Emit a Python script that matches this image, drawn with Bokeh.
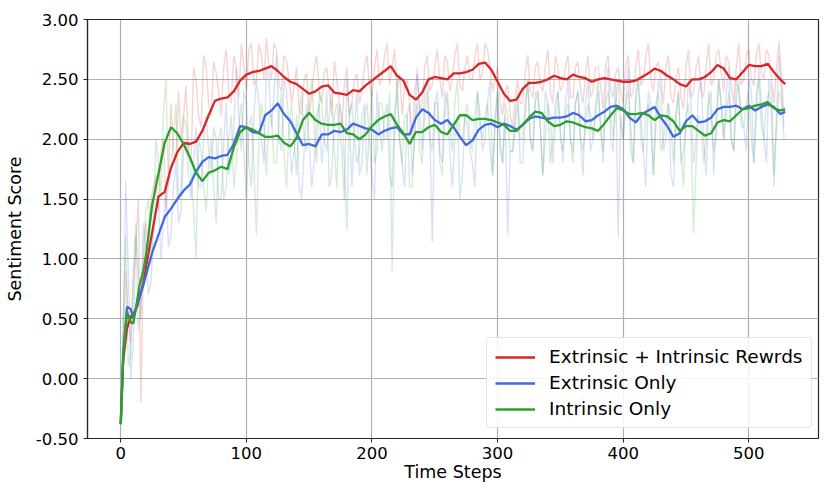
from bokeh.plotting import figure
from bokeh.models import Range1d, FixedTicker, NumeralTickFormatter, Legend, LegendItem
from bokeh.embed import file_html
from bokeh.resources import INLINE

# ---------------- data ----------------
x_smooth = [0, 2, 5, 8, 10, 13, 15, 18, 20] + list(range(25, 530, 5)) + [529]

red_smooth = [
    -0.38, 0.15, 0.42, 0.52, 0.54, 0.60, 0.68, 0.80, 0.92,
    1.22, 1.52, 1.56, 1.76, 1.89, 1.97, 1.96, 1.98, 2.07, 2.20,
    2.32, 2.34, 2.35, 2.40, 2.49, 2.54, 2.56, 2.57, 2.59, 2.61,
    2.57, 2.52, 2.48, 2.46, 2.42, 2.38, 2.40, 2.44, 2.45, 2.39,
    2.38, 2.37, 2.41, 2.40, 2.45, 2.49, 2.53, 2.57, 2.61, 2.53,
    2.49, 2.37, 2.33, 2.39, 2.50, 2.52, 2.51, 2.50, 2.55, 2.55,
    2.56, 2.58, 2.63, 2.64, 2.58, 2.48, 2.38, 2.32, 2.33, 2.42,
    2.47, 2.47, 2.48, 2.50, 2.53, 2.51, 2.50, 2.54, 2.52, 2.51,
    2.48, 2.50, 2.51, 2.50, 2.49, 2.48, 2.48, 2.49, 2.52, 2.55,
    2.59, 2.57, 2.53, 2.50, 2.46, 2.44, 2.50, 2.50, 2.52, 2.56,
    2.62, 2.59, 2.51, 2.50, 2.56, 2.62, 2.61, 2.61, 2.63, 2.56,
    2.50, 2.46,
]

blue_smooth = [
    -0.38, 0.20, 0.60, 0.58, 0.50, 0.62, 0.68, 0.78, 0.86,
    1.05, 1.20, 1.35, 1.42, 1.50, 1.57, 1.62, 1.73, 1.81, 1.85,
    1.84, 1.86, 1.87, 1.96, 2.11, 2.10, 2.06, 2.05, 2.20, 2.24,
    2.30, 2.21, 2.15, 2.05, 1.95, 1.96, 1.94, 2.04, 2.04, 2.07,
    2.06, 2.08, 2.13, 2.11, 2.09, 2.08, 2.04, 2.07, 2.09, 2.10,
    2.04, 2.04, 2.18, 2.25, 2.22, 2.16, 2.13, 2.16, 2.10, 2.02,
    1.95, 1.99, 2.08, 2.12, 2.13, 2.10, 2.13, 2.11, 2.08, 2.12,
    2.17, 2.19, 2.18, 2.17, 2.18, 2.18, 2.19, 2.22, 2.20, 2.15,
    2.16, 2.20, 2.23, 2.27, 2.28, 2.25, 2.18, 2.14, 2.21, 2.24,
    2.27, 2.18, 2.11, 2.02, 2.05, 2.15, 2.20, 2.14, 2.15, 2.18,
    2.25, 2.27, 2.27, 2.28, 2.25, 2.28, 2.24, 2.27, 2.29, 2.27,
    2.21, 2.23,
]

green_smooth = [
    -0.38, 0.20, 0.56, 0.47, 0.46, 0.65, 0.78, 0.90, 1.02,
    1.45, 1.71, 1.97, 2.10, 2.05, 1.96, 1.85, 1.72, 1.65, 1.72,
    1.74, 1.77, 1.75, 1.93, 2.06, 2.10, 2.08, 2.05, 2.02, 2.02,
    2.03, 1.97, 1.94, 2.01, 2.16, 2.22, 2.16, 2.13, 2.12, 2.12,
    2.13, 2.05, 2.04, 2.00, 2.04, 2.11, 2.16, 2.19, 2.21, 2.12,
    2.05, 1.96, 2.06, 2.06, 2.10, 2.12, 2.06, 2.04, 2.12, 2.20,
    2.20, 2.16, 2.17, 2.17, 2.16, 2.14, 2.12, 2.07, 2.07, 2.12,
    2.18, 2.23, 2.22, 2.15, 2.11, 2.12, 2.15, 2.14, 2.12, 2.10,
    2.09, 2.07, 2.13, 2.20, 2.26, 2.24, 2.21, 2.21, 2.22, 2.20,
    2.16, 2.20, 2.19, 2.15, 2.07, 2.11, 2.11, 2.07, 2.03, 2.05,
    2.14, 2.16, 2.15, 2.20, 2.25, 2.26, 2.28, 2.29, 2.31, 2.26,
    2.24, 2.25,
]

# raw (unsmoothed) scores, read at steps 0, 4, 8, ... and 2, 6, 10, ...
x_raw_a = list(range(0, 529, 4))
x_raw_b = list(range(2, 527, 4))

red_raw_a = [
    -0.38, 0.90, 0.30, 1.10, -0.20, 1.30, 1.50, 1.70, 1.90, 1.40,
    2.30, 1.80, 2.00, 2.45, 1.80, 2.50, 2.10, 2.60, 2.20, 2.55,
    2.20, 2.75, 2.30, 2.60, 2.80, 2.40, 2.80, 2.50, 2.70, 2.85,
    2.50, 2.75, 2.40, 2.65, 2.30, 2.60, 2.20, 2.55, 2.35, 2.70,
    2.30, 2.60, 2.20, 2.50, 2.10, 2.60, 2.30, 2.55, 2.40, 2.70,
    2.35, 2.75, 2.50, 2.80, 2.60, 2.40, 2.20, 2.50, 2.00, 2.55,
    2.30, 2.70, 2.45, 2.75, 2.35, 2.65, 2.50, 2.80, 2.40, 2.70,
    2.50, 2.80, 2.55, 2.75, 2.40, 2.60, 2.20, 2.45, 2.10, 2.50,
    2.30, 2.70, 2.35, 2.65, 2.40, 2.75, 2.30, 2.60, 2.45, 2.70,
    2.35, 2.65, 2.30, 2.70, 2.40, 2.60, 2.25, 2.70, 2.35, 2.60,
    2.30, 2.70, 2.40, 2.75, 2.50, 2.80, 2.40, 2.65, 2.30, 2.70,
    2.30, 2.60, 2.25, 2.75, 2.40, 2.70, 2.35, 2.80, 2.50, 2.75,
    2.40, 2.65, 2.30, 2.80, 2.50, 2.75, 2.45, 2.80, 2.50, 2.70,
    2.30, 2.82, 2.20,
]
red_raw_b = [
    0.30, 0.50, 0.80, 1.50, 0.90, 1.10, 1.60, 1.40, 2.00, 1.70,
    1.90, 2.40, 2.20, 1.90, 2.60, 2.20, 2.70, 2.30, 2.65, 2.40,
    2.60, 2.40, 2.70, 2.35, 2.60, 2.75, 2.45, 2.80, 2.50, 2.60,
    2.80, 2.45, 2.70, 2.50, 2.45, 2.25, 2.50, 2.20, 2.60, 2.40,
    2.55, 2.40, 2.65, 2.30, 2.45, 2.20, 2.50, 2.30, 2.60, 2.45,
    2.60, 2.45, 2.70, 2.45, 2.75, 2.55, 2.45, 2.30, 2.40, 2.25,
    2.60, 2.40, 2.60, 2.50, 2.70, 2.40, 2.70, 2.45, 2.60, 2.50,
    2.70, 2.50, 2.80, 2.60, 2.50, 2.30, 2.40, 2.20, 2.35, 2.30,
    2.55, 2.40, 2.60, 2.45, 2.60, 2.40, 2.70, 2.40, 2.60, 2.35,
    2.60, 2.40, 2.55, 2.35, 2.60, 2.45, 2.60, 2.40, 2.55, 2.40,
    2.60, 2.35, 2.60, 2.45, 2.70, 2.50, 2.60, 2.50, 2.60, 2.35,
    2.50, 2.35, 2.60, 2.35, 2.60, 2.40, 2.60, 2.45, 2.70, 2.55,
    2.70, 2.45, 2.60, 2.45, 2.70, 2.50, 2.70, 2.55, 2.75, 2.50,
    2.60, 2.50,
]

blue_raw_a = [
    -0.38, 1.65, 0.00, 1.20, 0.50, 1.10, 0.80, 1.40, 1.00, 1.60,
    1.20, 1.80, 1.40, 2.00, 1.50, 2.10, 1.60, 2.20, 1.70, 2.00,
    1.50, 2.30, 1.80, 2.60, 1.90, 2.30, 1.60, 2.50, 2.00, 2.60,
    2.10, 2.70, 1.90, 2.40, 1.70, 2.20, 1.50, 2.30, 1.60, 2.20,
    1.80, 2.40, 1.70, 2.30, 1.90, 2.50, 1.60, 2.40, 1.80, 2.30,
    1.70, 2.40, 1.90, 2.30, 1.60, 2.40, 1.80, 2.20, 1.70, 2.60,
    1.90, 2.50, 1.14, 2.40, 1.80, 2.30, 1.60, 2.20, 1.70, 2.10,
    1.80, 2.40, 1.90, 2.30, 1.70, 2.40, 1.80, 1.20, 1.90, 2.40,
    1.80, 2.50, 1.90, 2.40, 1.70, 2.30, 2.00, 2.40, 1.80, 2.50,
    1.90, 2.40, 1.70, 2.50, 2.00, 2.40, 1.80, 2.60, 1.90, 1.18,
    2.00, 2.60, 1.80, 2.50, 1.90, 2.40, 1.70, 2.50, 1.90, 2.30,
    1.60, 2.40, 1.90, 2.50, 1.80, 2.40, 2.00, 2.30, 1.70, 2.50,
    2.00, 2.60, 1.90, 2.40, 2.10, 2.50, 1.80, 2.60, 2.00, 2.50,
    1.70, 2.70, 2.10,
]
blue_raw_b = [
    0.40, 0.90, 0.30, 0.90, 1.30, 0.70, 1.20, 1.50, 1.30, 1.10,
    1.60, 1.30, 1.90, 1.70, 1.80, 1.60, 2.00, 1.90, 2.10, 1.50,
    2.00, 1.70, 2.10, 2.20, 2.40, 1.80, 2.20, 2.30, 1.80, 2.50,
    2.40, 2.00, 2.50, 2.10, 1.90, 1.60, 1.90, 2.00, 1.80, 2.30,
    2.00, 1.60, 2.20, 2.10, 1.50, 2.20, 2.10, 1.70, 2.20, 2.00,
    1.50, 2.10, 2.20, 1.70, 2.20, 2.00, 1.60, 2.30, 2.00, 2.20,
    2.40, 2.10, 2.30, 1.90, 2.40, 1.90, 2.00, 1.50, 2.20, 1.90,
    1.60, 2.20, 2.00, 2.50, 2.10, 1.90, 2.20, 1.90, 2.20, 1.80,
    2.20, 2.00, 2.30, 2.10, 2.40, 1.80, 2.30, 2.10, 2.30, 2.00,
    2.30, 2.00, 2.30, 1.90, 2.20, 2.10, 2.40, 2.00, 2.50, 2.20,
    2.30, 1.90, 2.40, 2.20, 1.60, 2.30, 2.10, 2.40, 2.00, 1.70,
    2.20, 1.80, 2.10, 2.30, 2.00, 2.50, 1.70, 2.40, 2.20, 2.30,
    2.40, 2.00, 2.50, 2.20, 1.90, 2.40, 2.20, 2.30, 1.80, 2.40,
    2.20, 2.40,
]

green_raw_a = [
    -0.38, 1.20, 0.20, 1.30, 0.60, 1.40, 1.00, 2.00, 1.50, 2.50,
    1.80, 2.30, 1.60, 2.10, 1.70, 1.00, 1.90, 1.40, 2.00, 1.30,
    2.10, 1.60, 2.20, 1.80, 2.30, 1.50, 2.20, 1.20, 2.30, 1.70,
    2.20, 1.80, 2.40, 1.60, 2.30, 1.70, 2.40, 1.90, 2.50, 1.80,
    2.30, 1.90, 2.40, 1.60, 2.20, 1.24, 2.30, 1.80, 2.20, 1.70,
    2.40, 1.90, 2.30, 2.00, 0.90, 2.50, 1.80, 2.20, 1.60, 2.30,
    1.80, 2.40, 1.90, 2.30, 1.70, 2.40, 1.90, 2.50, 2.00, 2.30,
    1.90, 2.40, 2.00, 2.30, 1.70, 2.40, 1.80, 2.20, 1.90, 2.30,
    2.00, 2.50, 1.90, 2.40, 1.70, 2.30, 1.80, 2.40, 1.90, 2.30,
    1.80, 2.40, 1.90, 2.30, 2.00, 2.50, 1.90, 2.40, 2.00, 2.50,
    2.00, 2.40, 1.80, 2.50, 1.90, 2.30, 1.70, 2.40, 2.00, 2.30,
    1.80, 2.40, 1.60, 2.30, 1.21, 2.20, 1.80, 2.40, 1.90, 2.50,
    2.00, 2.40, 1.90, 2.50, 2.10, 2.40, 1.80, 2.50, 2.00, 2.40,
    1.60, 2.40, 2.00,
]
green_raw_b = [
    0.50, 0.10, 0.90, 0.40, 1.10, 1.50, 1.30, 1.80, 2.20, 1.60,
    2.00, 1.50, 2.20, 1.90, 1.40, 2.00, 1.60, 1.80, 1.60, 2.00,
    1.50, 2.00, 1.60, 2.10, 1.90, 2.10, 1.80, 2.00, 2.10, 2.20,
    1.80, 2.20, 1.90, 2.10, 2.00, 2.20, 2.00, 2.30, 2.10, 2.40,
    2.00, 2.20, 1.90, 2.30, 1.80, 2.20, 2.00, 1.90, 2.30, 2.10,
    1.80, 2.30, 2.00, 2.40, 2.10, 2.00, 2.20, 1.60, 2.10, 1.90,
    2.20, 2.00, 2.30, 1.80, 2.20, 2.10, 2.30, 2.00, 2.20, 2.00,
    2.20, 2.10, 2.20, 1.90, 2.20, 2.00, 2.30, 1.90, 2.10, 2.00,
    2.30, 2.00, 2.40, 2.10, 2.00, 2.20, 2.10, 2.00, 2.20, 2.00,
    2.30, 2.00, 2.10, 2.20, 2.30, 2.10, 2.30, 2.20, 2.30, 2.10,
    2.30, 2.10, 2.30, 2.00, 2.20, 2.10, 2.30, 1.90, 2.20, 2.10,
    2.20, 1.90, 2.20, 2.00, 1.80, 2.10, 2.00, 2.20, 2.00, 2.30,
    2.20, 2.00, 2.30, 2.10, 2.30, 2.00, 2.40, 2.10, 2.30, 2.20,
    2.10, 2.30,
]

labels = ["Extrinsic + Intrinsic Rewrds", "Extrinsic Only", "Intrinsic Only"]
colors = ["#d62728", "#4169e1", "#2ca02c"]
x_ticks = [0, 100, 200, 300, 400, 500]
y_ticks = [-0.5, 0.0, 0.5, 1.0, 1.5, 2.0, 2.5, 3.0]


def merge(xa, ya, xb, yb):
    pts = sorted(list(zip(xa, ya)) + list(zip(xb, yb)))
    return [q[0] for q in pts], [q[1] for q in pts]


# ---------------- figure ----------------
FONT = "DejaVu Sans"
p = figure(width=822, height=490, output_backend="svg", toolbar_location=None,
           x_range=Range1d(-26.45, 555.45), y_range=Range1d(-0.5, 3.0),
           min_border_left=87, min_border_right=4, min_border_top=19,
           min_border_bottom=52)
p.background_fill_color = "white"
p.border_fill_color = "white"
p.outline_line_color = "#262626"
p.outline_line_width = 1.2

for ax in (p.xaxis[0], p.yaxis[0]):
    ax.axis_line_color = "#262626"
    ax.axis_line_width = 1.2
    ax.major_tick_line_color = "#262626"
    ax.major_tick_in = 0
    ax.major_tick_out = 4
    ax.minor_tick_line_color = None
    ax.major_label_text_font = FONT
    ax.major_label_text_font_size = "16.5px"
    ax.major_label_text_color = "black"
    ax.axis_label_text_font = FONT
    ax.axis_label_text_font_size = "17.5px"
    ax.axis_label_text_font_style = "normal"
    ax.axis_label_text_color = "black"

p.xaxis.ticker = FixedTicker(ticks=x_ticks)
p.yaxis.ticker = FixedTicker(ticks=y_ticks)
p.yaxis.formatter = NumeralTickFormatter(format="0.00")
p.xaxis.axis_label = "Time Steps"
p.yaxis.axis_label = "Sentiment Score"
p.xaxis.axis_label_standoff = 0
p.yaxis.axis_label_standoff = 8
p.xaxis.major_label_standoff = 4

p.grid.grid_line_color = "#b0b0b0"
p.grid.grid_line_width = 1.2

raw_pairs = [(red_raw_a, red_raw_b), (blue_raw_a, blue_raw_b), (green_raw_a, green_raw_b)]
smooths = [red_smooth, blue_smooth, green_smooth]
for (ra, rb), c in zip(raw_pairs, colors):
    xs, ys = merge(x_raw_a, ra, x_raw_b, rb)
    p.line(xs, ys, line_color=c, line_alpha=0.2, line_width=1.4)

items = []
for s, c, lab in zip(smooths, colors, labels):
    rr = p.line(x_smooth, s, line_color=c, line_width=2.3)
    items.append(LegendItem(label=lab, renderers=[rr]))

legend = Legend(items=items, location=(399, 10))
legend.label_text_font = FONT
legend.label_text_font_size = "18.5px"
legend.label_text_color = "black"
legend.glyph_width = 40
legend.glyph_height = 20
legend.label_height = 20
legend.label_standoff = 14
legend.padding = 8
legend.spacing = 5
legend.border_line_color = "#cccccc"
legend.border_line_width = 1
legend.background_fill_alpha = 0.85
legend.border_radius = 4
p.add_layout(legend, "center")

open("out.html", "w").write(file_html(p, INLINE))
